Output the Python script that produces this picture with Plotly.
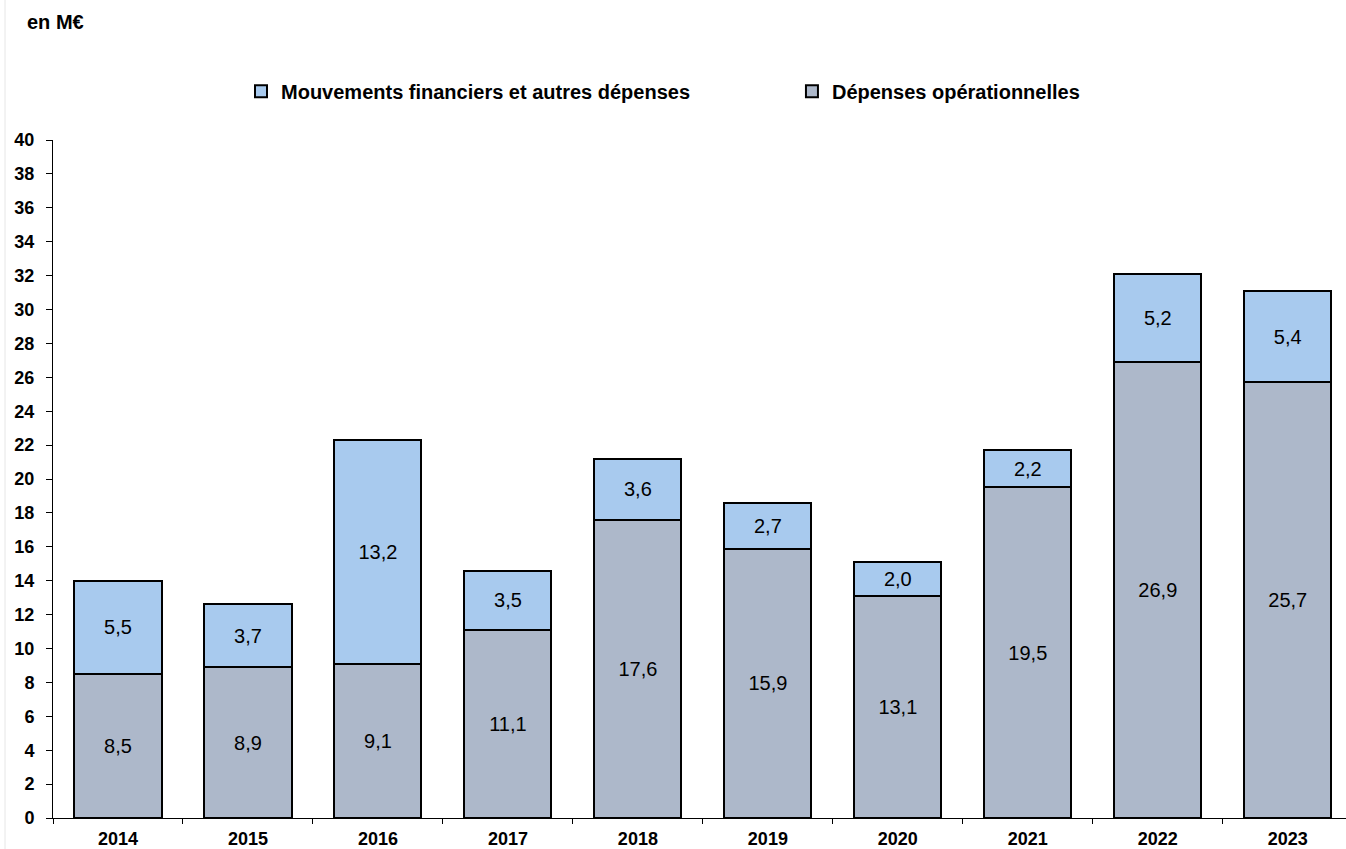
import plotly.graph_objects as go

years = ["2014", "2015", "2016", "2017", "2018", "2019", "2020", "2021", "2022", "2023"]
depenses_op = [8.5, 8.9, 9.1, 11.1, 17.6, 15.9, 13.1, 19.5, 26.9, 25.7]
mouvements = [5.5, 3.7, 13.2, 3.5, 3.6, 2.7, 2.0, 2.2, 5.2, 5.4]
y_ticks = list(range(0, 41, 2))

def fr(v):
    return f"{v:.1f}".replace(".", ",")

FONT = "Liberation Sans, Arial, sans-serif"

fig = go.Figure()
fig.add_trace(go.Bar(
    x=years, y=depenses_op, name="Dépenses opérationnelles",
    marker=dict(color="#ADB8CA", line=dict(color="black", width=2)),
    text=[fr(v) for v in depenses_op], textposition="inside", insidetextanchor="middle",
    textangle=0, constraintext="none",
    textfont=dict(family=FONT, size=20, color="black"),
    width=0.67, legend="legend2",
))
fig.add_trace(go.Bar(
    x=years, y=mouvements, name="Mouvements financiers et autres dépenses",
    marker=dict(color="#A8CAEE", line=dict(color="black", width=2)),
    text=[fr(v) for v in mouvements], textposition="inside", insidetextanchor="middle",
    textangle=0, constraintext="none",
    textfont=dict(family=FONT, size=20, color="black"),
    width=0.67, legend="legend",
))

legend_common = dict(
    orientation="h", yanchor="middle", xanchor="left", y=1.072,
    font=dict(family=FONT, size=20, color="black", weight="bold"),
    bgcolor="rgba(0,0,0,0)", itemwidth=30,
)

fig.update_layout(
    width=1346, height=849,
    barmode="stack",
    plot_bgcolor="white", paper_bgcolor="white",
    margin=dict(l=53, r=0, t=140, b=31),
    font=dict(family=FONT, color="black"),
    showlegend=True,
    legend=dict(legend_common, x=0.1454),
    legend2=dict(legend_common, x=0.5715),
    xaxis=dict(
        type="category", range=[-0.5, 9.448],
        showline=True, linecolor="black", linewidth=1,
        ticks="outside", ticklen=5, tickcolor="black", tickson="boundaries",
        ticklabelstandoff=4,
        tickfont=dict(family=FONT, size=18, color="black", weight="bold"),
        showgrid=False, zeroline=False,
    ),
    yaxis=dict(
        range=[0, 40], tickvals=y_ticks,
        showline=True, linecolor="black", linewidth=1,
        ticks="outside", ticklen=6, tickcolor="black", ticklabelstandoff=8,
        tickfont=dict(family=FONT, size=18, color="black", weight="bold"),
        showgrid=False, zeroline=False,
    ),
    annotations=[dict(
        text="en M€", xref="paper", yref="paper",
        x=-0.0215, y=1.174, xanchor="left", yanchor="middle", showarrow=False,
        font=dict(family=FONT, size=20, color="black", weight="bold"),
    )],
    shapes=[dict(
        type="line", xref="paper", yref="paper",
        x0=-0.0371, x1=-0.0371, y0=-0.05, y1=1.21,
        line=dict(color="#E6E6E6", width=1),
    )],
)

fig.write_html("out.html")
